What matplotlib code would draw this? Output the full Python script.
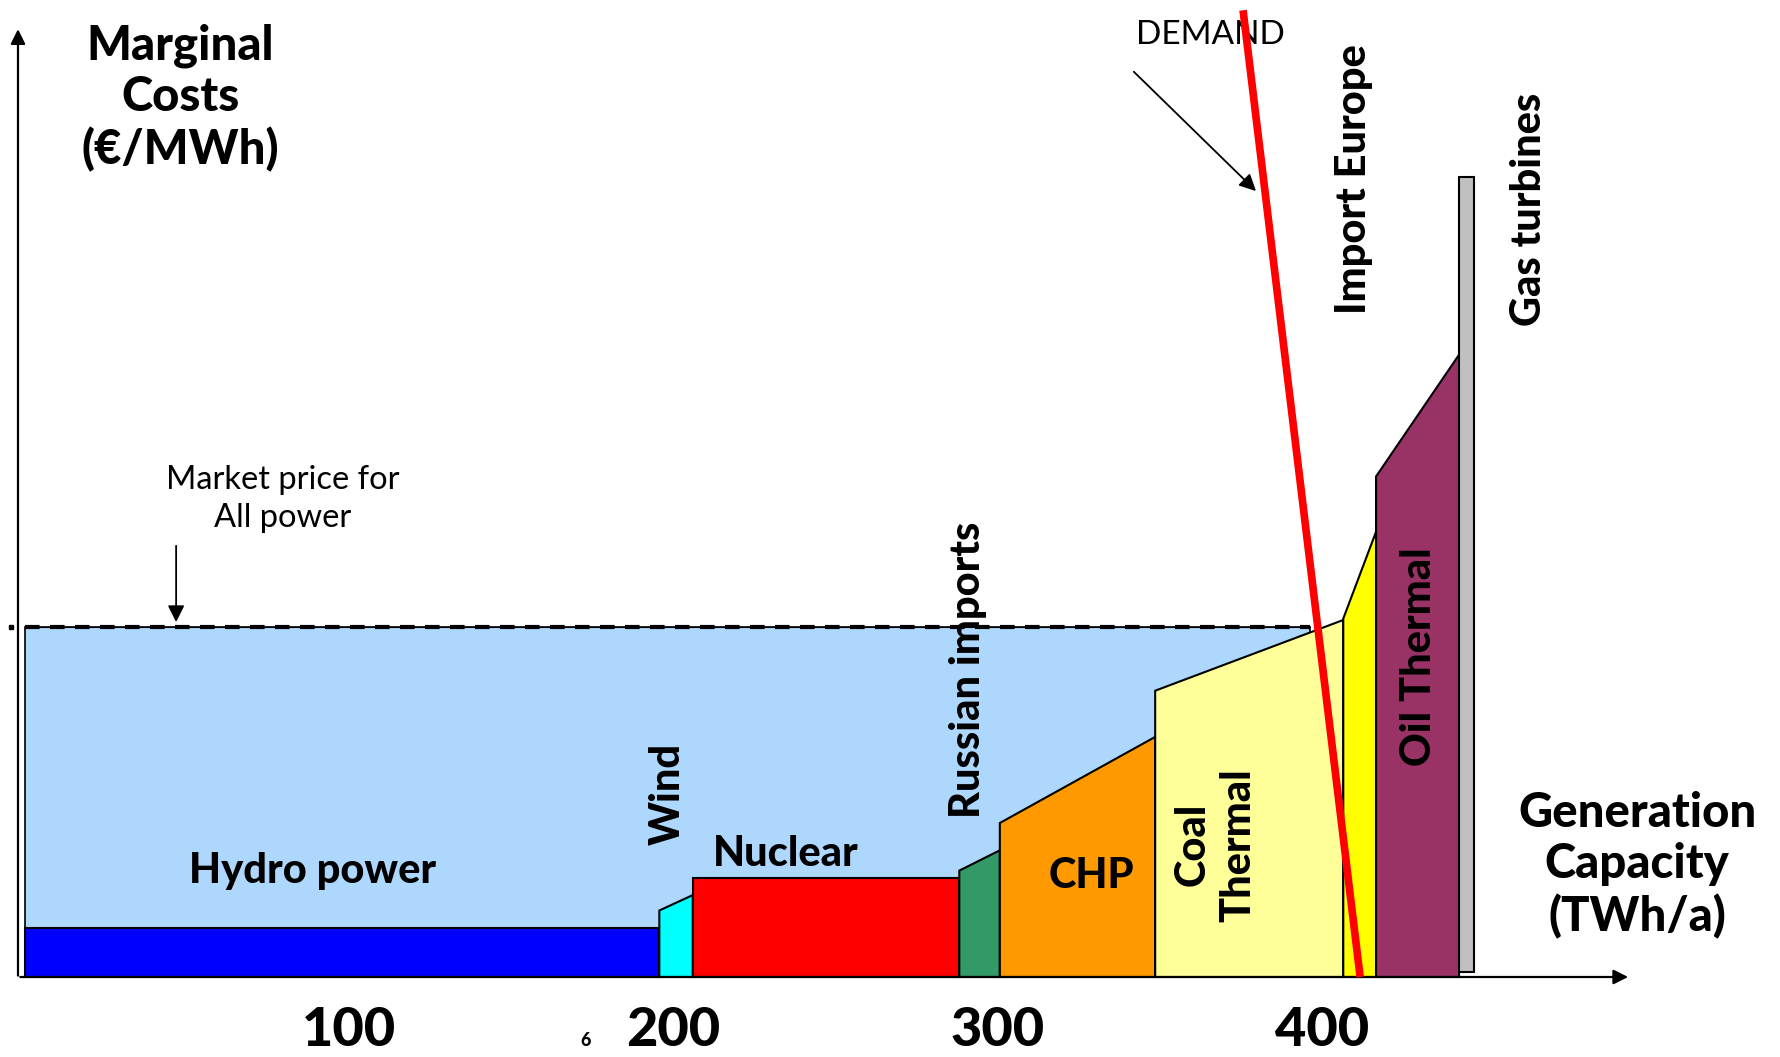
import matplotlib
matplotlib.use("Agg")
import matplotlib.pyplot as plt

plt.rcParams["font.family"] = ["Lato", "DejaVu Sans"]

# Merit order blocks (TWh/a edges, marginal cost at left/right edge of each block)
names = ["Hydro", "Wind", "Nuclear", "Russian imports", "CHP",
         "Coal Thermal", "Import Europe", "Oil Thermal", "Gas turbines"]
x_edges = [0, 195.6, 205.9, 288.1, 300.6, 348.5, 406.5, 416.6, 442.2, 446.8]
cost_left = [7.0, 9.5, 14.2, 15.2, 22.0, 40.9, 51.2, 71.5, 114.3]
cost_right = [7.0, 11.7, 14.2, 18.1, 34.3, 51.0, 63.6, 88.9, 114.3]
colors = ["#0000FF", "#00FFFF", "#FF0000", "#339966", "#FF9900",
          "#FFFF99", "#FFFF00", "#993366", "#C0C0C0"]

market_price = 50.0
price_line_end = 396.2
demand_x = [375.6, 411.7]
demand_y = [138.1, 0.0]
tick_values = [100, 200, 300, 400]

# pixel mapping of the slide: x px = 25 + 3.243*x, y px = 977 - 7*y
fig = plt.figure(figsize=(17.8, 10.57), dpi=100)
ax = fig.add_axes([0, 0, 1, 1])
ax.set_xlim(-25 / 3.243, (1780 - 25) / 3.243)
ax.set_ylim(-80 / 7, 977 / 7)
ax.set_axis_off()

# everything below the market price
ax.fill([0, 0, price_line_end, price_line_end], [0, market_price, market_price, 0],
        facecolor="#ADD7FD", edgecolor="black", lw=1.2, zorder=1)

for i, name in enumerate(names):
    x0, x1 = x_edges[i], x_edges[i + 1]
    y0 = 0.7 if name == "Gas turbines" else 0
    ax.fill([x0, x0, x1, x1], [y0, cost_left[i], cost_right[i], y0],
            facecolor=colors[i], edgecolor="black", lw=1.5, zorder=2)

ax.plot([0, price_line_end], [market_price, market_price], color="black",
        lw=3, ls=(0, (3.5, 2.5)), zorder=3)
ax.plot([0, price_line_end], [market_price, market_price], color="black",
        lw=0.8, zorder=3)
ax.plot([-4.3], [market_price], "s", ms=2.5, color="black")

# axes arrows
ax.annotate("", xy=(-2.16, 135.8), xytext=(-2.16, -0.2),
            arrowprops=dict(arrowstyle="-|>", lw=1.6, color="black", mutation_scale=22))
ax.annotate("", xy=(495.2, 0), xytext=(-2.3, 0),
            arrowprops=dict(arrowstyle="-|>", lw=1.6, color="black", mutation_scale=22))

# demand curve
ax.plot(demand_x, demand_y, color="#FF0000", lw=5.5, solid_capstyle="butt", zorder=5)
ax.annotate("", xy=(380.2, 112.0), xytext=(341.3, 129.6),
            arrowprops=dict(arrowstyle="-|>", lw=1.3, color="black", mutation_scale=25))
ax.text(365.4, 134.6, "DEMAND", fontsize=24, ha="center", va="center", zorder=4)

ax.annotate("", xy=(46.6, 50.3), xytext=(46.6, 62.0),
            arrowprops=dict(arrowstyle="-|>", lw=1.3, color="black", mutation_scale=25))
ax.text(79.5, 68.3, "Market price for\nAll power", fontsize=23.5, ha="center",
        va="center", linespacing=1.3)

heavy = "black"

# axis titles
ax.text(47.8, 125.6, "Marginal\nCosts\n(\u20ac/MWh)", fontsize=34, fontweight=heavy,
        ha="center", va="center", linespacing=1.2)
ax.text(497.1, 16.0, "Generation\nCapacity\n(TWh/a)", fontsize=34, fontweight=heavy,
        ha="center", va="center", linespacing=1.2)

for v in tick_values:
    ax.text(v, -7.7, str(v), fontsize=39, fontweight=heavy, ha="center", va="center")
ax.text(172.7, -9.0, "6", fontsize=13, fontweight=heavy, ha="center", va="center")

# block labels
lab = dict(fontweight=heavy, ha="center", va="center", zorder=6)
fs = 30
ax.text(88.8, 15.2, "Hydro power", fontsize=fs, **lab)
ax.text(234.5, 17.6, "Nuclear", fontsize=fs, **lab)
ax.text(198.3, 26.1, "Wind", fontsize=fs, rotation=90, **lab)
ax.text(290.8, 43.9, "Russian imports", fontsize=fs, rotation=90, **lab)
ax.text(328.7, 14.4, "CHP", fontsize=fs, **lab)
ax.text(367.0, 18.9, "Coal\nThermal", fontsize=fs, rotation=90, linespacing=1.25,
        multialignment="center", **lab)
ax.text(429.8, 45.7, "Oil Thermal", fontsize=fs, rotation=90, **lab)
ax.text(409.8, 114.0, "Import Europe", fontsize=fs, rotation=90, **lab)
ax.text(463.8, 109.7, "Gas turbines", fontsize=fs, rotation=90, **lab)

fig.savefig("out.png", dpi=100)
